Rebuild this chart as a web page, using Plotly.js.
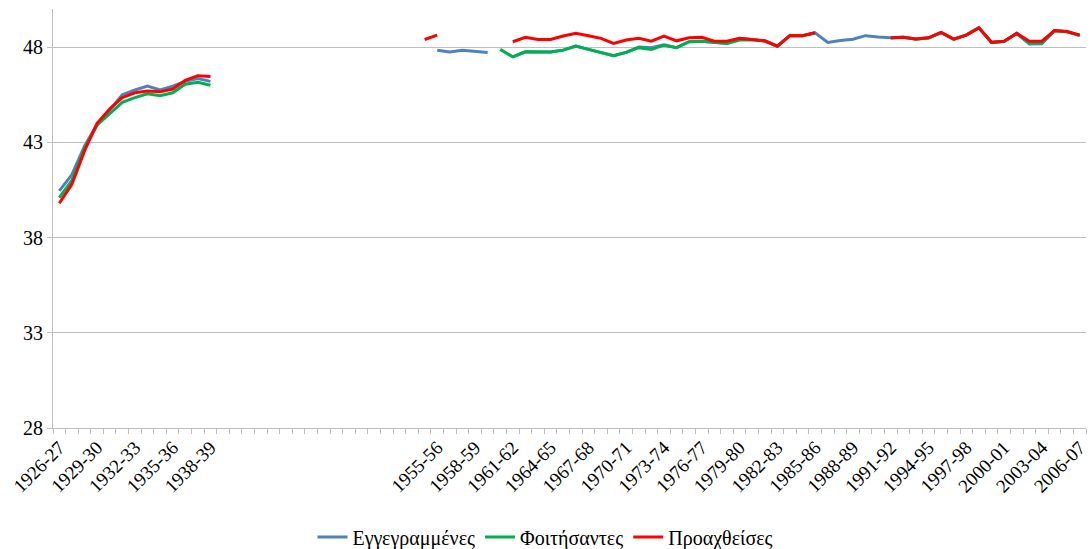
<!DOCTYPE html>
<html>
<head>
<meta charset="utf-8">
<script src="https://cdn.plot.ly/plotly-3.0.1.min.js"></script>
<style>html,body{margin:0;padding:0;background:#fff;}#chart{width:1091px;height:549px;}</style>
</head>
<body>
<div id="chart"></div>
<script>
// Category labels (school years); the gap between the two periods has unlabeled slots
const categories = [
  "1926-27","1927-28","1928-29","1929-30","1930-31","1931-32","1932-33","1933-34","1934-35","1935-36","1936-37","1937-38","1938-39",
  "","","","","","","","","","","","","","","","",
  "1954-55",
  "1955-56","1956-57","1957-58","1958-59","1959-60","1960-61","1961-62","1962-63","1963-64","1964-65","1965-66","1966-67","1967-68",
  "1968-69","1969-70","1970-71","1971-72","1972-73","1973-74","1974-75","1975-76","1976-77","1977-78","1978-79","1979-80","1980-81",
  "1981-82","1982-83","1983-84","1984-85","1985-86","1986-87","1987-88","1988-89","1989-90","1990-91","1991-92","1992-93","1993-94",
  "1994-95","1995-96","1996-97","1997-98","1998-99","1999-00","2000-01","2001-02","2002-03","2003-04","2004-05","2005-06","2006-07"
];

const seriesNames = ["Εγγεγραμμένες", "Φοιτήσαντες", "Προαχθείσες"];

const enrolled = [
  40.45, 41.3, 42.8, 43.95, 44.7, 45.5, 45.75, 45.95, 45.75, 45.95, 46.2, 46.35, 46.2,
  null, null, null, null, null, null, null, null, null, null, null, null, null, null, null, null, null,
  47.83, 47.74, 47.83, 47.79, 47.72,
  null,
  47.49, 47.75, 47.74, 47.74, 47.84, 48.05, 47.88, 47.72, 47.55, 47.72,
  48.0, 47.97, 48.12,
  47.97, 48.28, 48.31, 48.25, 48.19,
  48.46, 48.4, 48.33, 48.05, 48.61, 48.6, 48.75,
  48.24, 48.35, 48.41, 48.6, 48.53,
  48.49, 48.52, 48.42, 48.49, 48.77, 48.42, 48.64, 49.03, 48.25, 48.3, 48.72, 48.16, 48.17, 48.87, 48.81, 48.62
];

const attended = [
  40.1, 41.0, 42.7, 43.9, 44.5, 45.1, 45.35, 45.55, 45.45, 45.6, 46.05, 46.15, 46.0,
  null, null, null, null, null, null, null, null, null, null, null, null, null, null, null, null, null, null, null, null, null, null,
  47.88, 47.49, 47.75, 47.74, 47.74, 47.84, 48.05, 47.88, 47.72, 47.55, 47.72, 47.97, 47.88, 48.1, 47.97, 48.28, 48.31, 48.25, 48.19, 48.37, 48.38, 48.31, 48.04,
  48.61, 48.6, 48.75,
  null, null, null, null, null,
  48.48, 48.51, 48.41, 48.48, 48.76, 48.41, 48.63, 49.0, 48.24, 48.29, 48.71, 48.22, 48.22, 48.86, 48.8, 48.61
];

const promoted = [
  39.8, 40.8, 42.55, 44.0, 44.75, 45.35, 45.6, 45.7, 45.65, 45.8, 46.25, 46.5, 46.45,
  null, null, null, null, null, null, null, null, null, null, null, null, null, null, null, null,
  48.4, 48.63,
  null, null, null, null, null,
  48.28, 48.51, 48.4, 48.4, 48.58, 48.72, 48.6, 48.46, 48.19, 48.37, 48.46, 48.31, 48.58, 48.33, 48.49, 48.51, 48.31, 48.31, 48.46, 48.4, 48.33, 48.05, 48.61, 48.6, 48.75,
  null, null, null, null, null,
  48.49, 48.52, 48.42, 48.49, 48.77, 48.42, 48.63, 49.01, 48.25, 48.31, 48.72, 48.31, 48.31, 48.87, 48.82, 48.63
];

const yTicks = [28, 33, 38, 43, 48];
const colors = ["#4F81BD", "#00B050", "#FF0000"];

const xIdx = categories.map((c, i) => i);
const tickIdx = xIdx.filter(i => i % 3 === 0 && categories[i] !== "");
const tickLbl = tickIdx.map(i => categories[i]);

const data = [enrolled, attended, promoted].map((vals, k) => ({
  type: "scatter",
  mode: "lines",
  name: seriesNames[k],
  x: xIdx,
  y: vals,
  connectgaps: false,
  line: {color: colors[k], width: 3},
  hoverinfo: "skip"
}));

const axisGray = "#BFBFBF";
const layout = {
  width: 1091,
  height: 549,
  margin: {l: 53, r: 5, t: 9, b: 121},
  paper_bgcolor: "#ffffff",
  plot_bgcolor: "#ffffff",
  font: {family: "Liberation Serif, DejaVu Serif, serif", size: 20, color: "#000000"},
  showlegend: true,
  xaxis: {
    type: "linear",
    range: [-0.5, categories.length - 0.5],
    tickmode: "array",
    tickvals: tickIdx,
    ticktext: tickLbl,
    tickangle: -45,
    ticks: "",
    tickfont: {size: 19},
    showgrid: false,
    zeroline: false,
    showline: true,
    linecolor: axisGray,
    linewidth: 1,
    minor: {tickmode: "linear", tick0: -0.5, dtick: 1, ticks: "outside", ticklen: 5, tickcolor: axisGray, tickwidth: 1, showgrid: false},
    fixedrange: true
  },
  yaxis: {
    range: [28, 50],
    tickmode: "array",
    tickvals: yTicks,
    ticktext: yTicks.map(String),
    ticks: "outside",
    ticklen: 5,
    tickcolor: axisGray,
    showgrid: true,
    gridcolor: axisGray,
    gridwidth: 1,
    zeroline: false,
    showline: true,
    linecolor: axisGray,
    linewidth: 1,
    tickfont: {size: 20},
    fixedrange: true
  },
  legend: {
    orientation: "h",
    xref: "container",
    yref: "container",
    x: 0.5,
    xanchor: "center",
    y: 0.022,
    yanchor: "middle",
    font: {size: 20},
    bgcolor: "rgba(0,0,0,0)"
  }
};

Plotly.newPlot("chart", data, layout, {staticPlot: true, displayModeBar: false});
</script>
</body>
</html>
